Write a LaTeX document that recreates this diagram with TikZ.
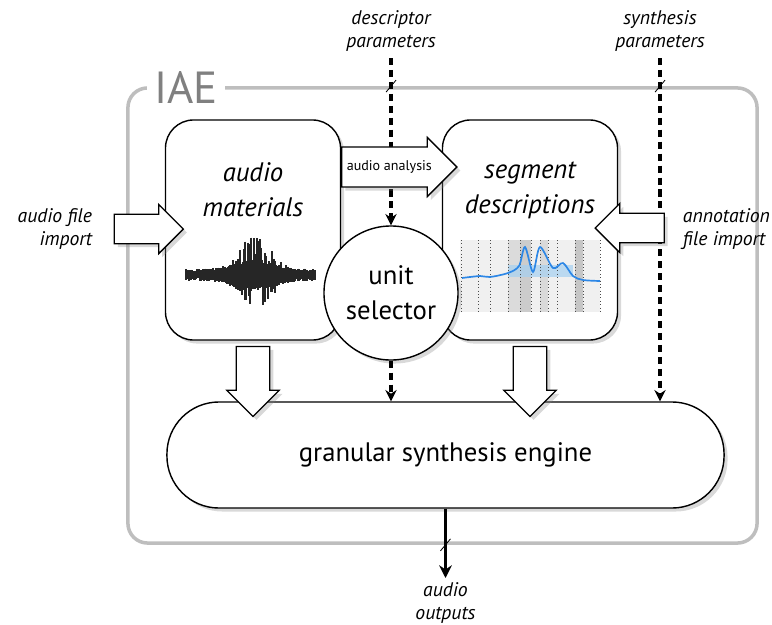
\documentclass[tikz,border=0pt]{standalone}
\usepackage{fontspec}
\setmainfont{PT Sans}
\usetikzlibrary{arrows.meta,positioning,shapes.arrows,shadows,calc}
\definecolor{framegray}{RGB}{190,190,190}
\definecolor{iaegray}{RGB}{128,128,128}
\definecolor{curveblue}{RGB}{45,135,230}
\definecolor{bandblue}{RGB}{165,208,240}

\begin{document}
\begin{tikzpicture}[x=0.025cm, y=-0.025cm,
    shade box/.style={drop shadow={shadow xshift=2.5pt, shadow yshift=-2.5pt, opacity=.3}},
    block/.style={rectangle, rounded corners=20pt, draw=black, line width=1pt, fill=white, shade box,
      minimum width=4.375cm, minimum height=5.5cm},
    blockarrow/.style={single arrow, draw=black, line width=0.9pt, fill=white, shade box, inner xsep=0pt},
    paramline/.style={line width=2.8pt, dash pattern=on 5pt off 3.5pt, -{Stealth[length=8pt,width=8pt]}},
    slash/.style={line width=0.6pt},
    title/.style={font=\fontsize{19}{25}\selectfont\itshape, align=center},
    extlabel/.style={font=\fontsize{14}{16.5}\selectfont\itshape}]
  \useasboundingbox (0,0) rectangle (772,625);

  % IAE frame
  \node[rectangle, draw=framegray, line width=2.5pt, rounded corners=14pt,
        minimum width=15.725cm, minimum height=11.375cm] (frame) at (442.5,315.5) {};
  \node[fill=white, inner xsep=5pt, inner ysep=0pt, text=iaegray,
        font=\fontsize{32}{32}\selectfont] (iaelabel) at (186,88) {IAE};

  % synthesis engine
  \node[rectangle, rounded corners=1.3cm, draw=black, line width=1pt, fill=white, shade box,
        minimum width=13.925cm, minimum height=2.65cm,
        font=\fontsize{19}{22}\selectfont] (engine) at (445.5,455) {granular synthesis engine};

  % arrows into the engine
  \node[blockarrow, rotate=-90, inner ysep=11.5pt, single arrow head extend=6.6pt,
        minimum height=1.75cm] (matdown) at (253,373) {};
  \node[blockarrow, rotate=-90, inner ysep=11.5pt, single arrow head extend=6.6pt,
        minimum height=1.75cm] (segdown) at (530,373) {};

  % audio materials
  \node[block] (materials) at (253,230) {};
  \node[title] (mattext) at (253,190) {audio\\materials};
  \pgfmathsetseed{17}
  \foreach \i in {0,...,129} {
    \pgfmathsetmacro{\up}{3+3*rnd+8*exp(-((\i-68)/28)^2)+30*exp(-((\i-70)/20)^2)*rnd^3}
    \pgfmathsetmacro{\dn}{3+3*rnd+8*exp(-((\i-68)/28)^2)+28*exp(-((\i-72)/18)^2)*rnd^3}
    \draw[black!85, line width=0.75pt] (186+\i,275-\up) -- (186+\i,275+\dn);
  }

  % segment descriptions
  \node[block] (segments) at (530,230) {};
  \node[title] (segtext) at (530,190) {segment\\descriptions};
  \fill[gray!12] (460,240) rectangle (600,312);
  \fill[gray!28] (508,240) rectangle (520,312);
  \fill[gray!40] (520,240) rectangle (531,312);
  \fill[gray!30] (540,240) rectangle (548,312);
  \fill[gray!45] (575,240) rectangle (583,312);
  \fill[bandblue, opacity=.7] (508,265) rectangle (573,277);
  \foreach \x in {461,478,490,508,520,531,540,548,557,575,583,600}
    \draw[black!70, line width=0.4pt, dotted] (\x,240) -- (\x,312);
  \draw[curveblue, line width=1.2pt] plot[smooth, tension=0.5] coordinates
    {(462,278) (480,276) (490,277) (508,273) (519,266) (525,247) (533,272)
     (540,247) (553,268) (563,263) (573,276) (583,280) (600,281)};

  % unit selector
  \node[circle, draw=black, line width=1pt, fill=white, shade box, minimum size=3.35cm,
        align=center, font=\fontsize{19}{25}\selectfont] (selector) at (391,293) {unit\\selector};

  % parameter lines
  \node[extlabel, align=center] (desclabel) at (391,31) {descriptor\\parameters};
  \node[extlabel, align=center] (synthlabel) at (660,31) {synthesis\\parameters};
  \coordinate (desctop) at (391,58);
  \coordinate (synthtop) at (660,58);
  \draw[paramline] (desctop) -- (selector.north);
  \draw[paramline] (selector.south) -- (selector |- engine.north);
  \draw[paramline] (synthtop) -- (synthtop |- engine.north);
  \draw[slash] ($(desctop |- frame.north)+(-5,6)$) -- ++(10,-12);
  \draw[slash] ($(synthtop |- frame.north)+(-5,6)$) -- ++(10,-12);

  % audio analysis
  \node[blockarrow, anchor=tail, inner ysep=9.3pt, text height=7pt, text depth=2pt,
        single arrow head extend=6.75pt, minimum height=2.875cm,
        font=\fontsize{10}{12}\selectfont] (analysis) at (materials.east |- 0,167) {audio analysis};

  % imports
  \node[blockarrow, inner ysep=10pt, single arrow head extend=7.1pt,
        minimum height=1.725cm] (audioimport) at (141.5,229) {};
  \node[extlabel, align=right, anchor=east] (audioimportlabel) at (97,229) {audio file\\import};
  \node[blockarrow, rotate=180, inner ysep=10pt, single arrow head extend=7.1pt,
        minimum height=1.725cm] (annotimport) at (637,228) {};
  \node[extlabel, align=left, anchor=west] (annotimportlabel) at (678,229) {annotation\\file import};

  % output
  \coordinate (outend) at (445.5,578);
  \draw[line width=2.2pt, -{Stealth[length=9pt,width=9pt]}] (engine.south) -- (outend);
  \draw[slash] ($(outend |- frame.south)+(-5,6)$) -- ++(10,-12);
  \node[extlabel, align=center] (outlabel) at (445.5,603) {audio\\outputs};
\end{tikzpicture}
\end{document}
